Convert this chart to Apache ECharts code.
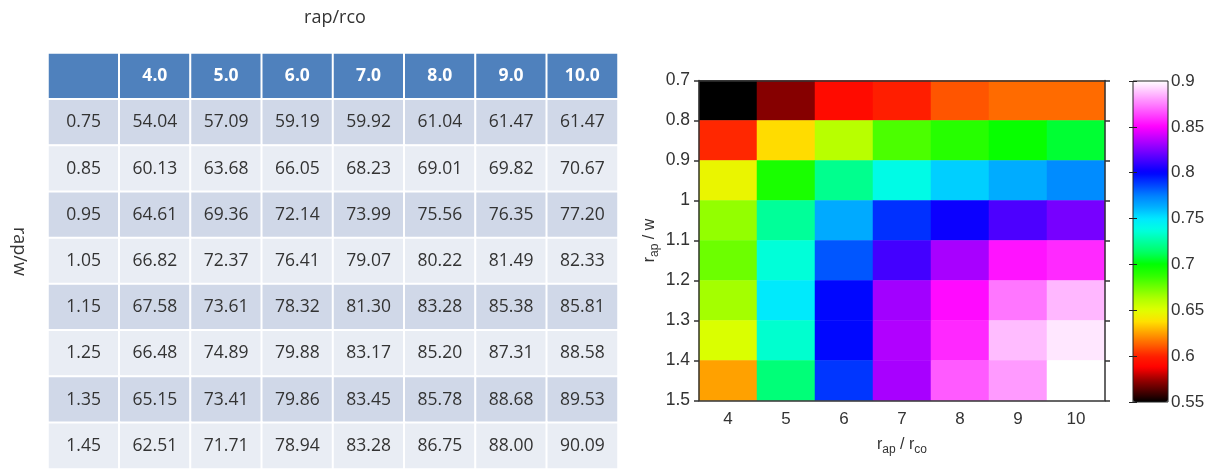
<!DOCTYPE html>
<html>
<head>
<meta charset="utf-8">
<script src="https://cdn.jsdelivr.net/npm/echarts@6/dist/echarts.min.js"></script>
<style>
html, body { margin: 0; padding: 0; background: #fff; }
#main { width: 1210px; height: 469px; }
</style>
</head>
<body>
<div id="main"></div>
<script>
// rap/w rows and rap/rco columns
var rowLabels = ['0.75', '0.85', '0.95', '1.05', '1.15', '1.25', '1.35', '1.45'];
var colLabels = ['4.0', '5.0', '6.0', '7.0', '8.0', '9.0', '10.0'];
var xTicks = ['4', '5', '6', '7', '8', '9', '10'];
// efficiency in %, one row per rap/w
var effValues = [
    [54.04, 57.09, 59.19, 59.92, 61.04, 61.47, 61.47],
    [60.13, 63.68, 66.05, 68.23, 69.01, 69.82, 70.67],
    [64.61, 69.36, 72.14, 73.99, 75.56, 76.35, 77.20],
    [66.82, 72.37, 76.41, 79.07, 80.22, 81.49, 82.33],
    [67.58, 73.61, 78.32, 81.30, 83.28, 85.38, 85.81],
    [66.48, 74.89, 79.88, 83.17, 85.20, 87.31, 88.58],
    [65.15, 73.41, 79.86, 83.45, 85.78, 88.68, 89.53],
    [62.51, 71.71, 78.94, 83.28, 86.75, 88.00, 90.09]
];
// colour scale 0.55 -> 0.9, one stop every 0.0125
var cbarColors = [
    '#000000', '#500000', '#a00000', '#ff0000', '#ff2000', '#ff6000', '#ffa000', '#ffe000',
    '#e0ff00', '#b0ff00', '#70ff00', '#30ff00', '#00ff00', '#00ff60', '#00ffa0', '#00ffe0',
    '#00e8ff', '#00b0ff', '#0080ff', '#0040ff', '#0000ff', '#4000ff', '#8000ff', '#c000ff',
    '#ff00ff', '#ff40ff', '#ff80ff', '#ffc0ff', '#ffffff'
];

var dom = document.getElementById('main');
var myChart = echarts.init(dom);

var headBlue = '#4f81bd';
var tableData = [];
tableData.push({ value: [0, 0, 0], itemStyle: { color: headBlue }, label: { show: false } });
colLabels.forEach(function (c, i) {
    tableData.push({
        value: [i + 1, 0, 0],
        itemStyle: { color: headBlue },
        label: { formatter: c, color: '#fff', fontWeight: 'bold' }
    });
});
rowLabels.forEach(function (r, j) {
    var bg = j % 2 === 0 ? '#d0d8e8' : '#e9edf4';
    tableData.push({ value: [0, j + 1, 0], itemStyle: { color: bg }, label: { formatter: r } });
    effValues[j].forEach(function (v, i) {
        tableData.push({ value: [i + 1, j + 1, v], itemStyle: { color: bg }, label: { formatter: v.toFixed(2) } });
    });
});

var heatData = [];
effValues.forEach(function (row, j) {
    row.forEach(function (v, i) {
        heatData.push([i, j, v / 100]);
    });
});

var axisCol = '#333';
var arial = 'Liberation Sans';
var nameRich = {
    r: { fontSize: 16, lineHeight: 22, verticalAlign: 'middle', fontFamily: arial, color: axisCol },
    s: { fontSize: 12, lineHeight: 12, verticalAlign: 'bottom', fontFamily: arial, color: axisCol }
};

var option = {
    backgroundColor: '#fff',
    animation: false,
    title: {
        text: 'rap/rco',
        left: 330,
        top: 4,
        textAlign: 'center',
        textStyle: { fontFamily: 'Open Sans', fontSize: 18, fontWeight: 'normal', color: '#333' }
    },
    graphic: [{
        type: 'text',
        left: 10,
        top: 227,
        rotation: -Math.PI / 2,
        style: { text: 'rap/w', font: '18px "Open Sans"', fill: '#333' }
    }],
    grid: [
        { left: 48, top: 53, width: 570, height: 419 },
        { left: 699, top: 80.5, width: 406, height: 320 },
        { left: 1133, top: 81, width: 35, height: 321, show: true, borderColor: '#222', borderWidth: 1, z: 10 }
    ],
    xAxis: [
        { gridIndex: 0, type: 'category', data: [''].concat(colLabels), show: false },
        {
            gridIndex: 1, type: 'category', data: xTicks, position: 'bottom', z: 10,
            axisLine: { lineStyle: { color: axisCol, width: 1.5 } },
            axisTick: { alignWithLabel: true, length: 5, lineStyle: { color: axisCol, width: 1.5 } },
            axisLabel: { fontSize: 17, color: axisCol, margin: 10, fontFamily: arial },
            name: '{r|r}{s|ap}{r| / r}{s|co}',
            nameLocation: 'middle',
            nameGap: 33,
            nameTextStyle: { rich: nameRich }
        },
        {
            gridIndex: 1, type: 'category', data: xTicks, position: 'top', z: 10,
            axisLine: { lineStyle: { color: axisCol, width: 1.5 } },
            axisTick: { alignWithLabel: true, length: 5, lineStyle: { color: axisCol, width: 1.5 } },
            axisLabel: { show: false }
        },
        { gridIndex: 2, type: 'value', show: false }
    ],
    yAxis: [
        { gridIndex: 0, type: 'category', data: ['head'].concat(rowLabels), inverse: true, show: false },
        { gridIndex: 1, type: 'category', data: rowLabels, inverse: true, show: false },
        {
            gridIndex: 1, type: 'value', min: 0.7, max: 1.5, interval: 0.1, inverse: true, position: 'left', z: 10,
            splitLine: { show: false },
            axisLine: { show: true, lineStyle: { color: axisCol, width: 1.5 } },
            axisTick: { show: true, length: 5, lineStyle: { color: axisCol, width: 1.5 } },
            axisLabel: { fontSize: 17.5, color: axisCol, margin: 9, fontFamily: arial },
            name: '{r|r}{s|ap}{r| / w}',
            nameLocation: 'middle',
            nameGap: 38,
            nameRotate: 90,
            nameTextStyle: { rich: nameRich }
        },
        {
            gridIndex: 1, type: 'value', min: 0.7, max: 1.5, interval: 0.1, inverse: true, position: 'right', z: 10,
            splitLine: { show: false },
            axisLine: { show: true, lineStyle: { color: axisCol, width: 1.5 } },
            axisTick: { show: true, length: 5, lineStyle: { color: axisCol, width: 1.5 } },
            axisLabel: { show: false }
        },
        {
            gridIndex: 2, type: 'value', min: 0.55, max: 0.9, interval: 0.05, position: 'right', z: 11,
            splitLine: { show: false },
            axisLine: { show: false },
            axisTick: { show: true, inside: true, length: 4, lineStyle: { color: '#222' } },
            axisLabel: { fontSize: 17, color: axisCol, margin: 3, fontFamily: arial }
        },
        {
            gridIndex: 2, type: 'value', min: 0.55, max: 0.9, interval: 0.05, position: 'left', z: 11,
            splitLine: { show: false },
            axisLine: { show: false },
            axisTick: { show: true, inside: true, length: 4, lineStyle: { color: '#222' } },
            axisLabel: { show: false }
        }
    ],
    visualMap: {
        type: 'continuous',
        seriesIndex: 1,
        min: 0.55,
        max: 0.9,
        left: 1133,
        top: 81,
        padding: 0,
        itemWidth: 35,
        itemHeight: 321,
        calculable: false,
        hoverLink: false,
        inRange: { color: cbarColors }
    },
    series: [
        {
            type: 'heatmap',
            xAxisIndex: 0,
            yAxisIndex: 0,
            data: tableData,
            itemStyle: { borderColor: '#fff', borderWidth: 2 },
            label: { show: true, fontFamily: 'Open Sans', fontSize: 17.5, color: '#333' },
            emphasis: { disabled: true }
        },
        {
            type: 'heatmap',
            xAxisIndex: 1,
            yAxisIndex: 1,
            data: heatData,
            itemStyle: { borderWidth: 0 },
            emphasis: { disabled: true }
        }
    ]
};

if (option && typeof option === 'object') {
    myChart.setOption(option, true);
}
</script>
</body>
</html>
